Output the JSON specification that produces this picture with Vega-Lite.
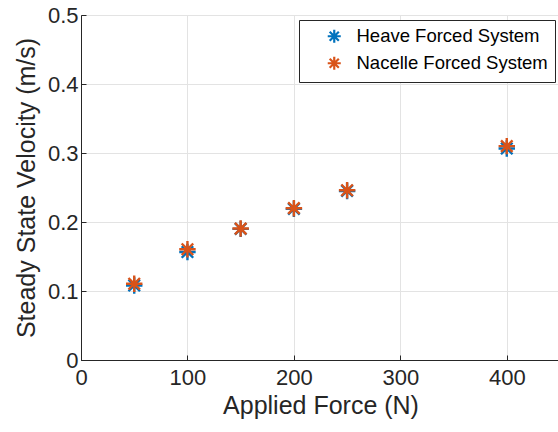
{
  "$schema": "https://vega.github.io/schema/vega-lite/v6.json",
  "width": 479,
  "height": 345,
  "autosize": {"type": "none"},
  "padding": {"left": 81, "top": 15, "right": 0, "bottom": 72},
  "background": "white",
  "config": {
    "font": "Liberation Sans",
    "view": {"stroke": "#262626", "strokeWidth": 1}
  },
  "data": {
    "values": [
      {"series": "Heave Forced System", "force": 50, "velocity": 0.108},
      {"series": "Heave Forced System", "force": 100, "velocity": 0.1565},
      {"series": "Heave Forced System", "force": 150, "velocity": 0.19},
      {"series": "Heave Forced System", "force": 200, "velocity": 0.219},
      {"series": "Heave Forced System", "force": 250, "velocity": 0.245},
      {"series": "Heave Forced System", "force": 400, "velocity": 0.3065},
      {"series": "Nacelle Forced System", "force": 50, "velocity": 0.1105},
      {"series": "Nacelle Forced System", "force": 100, "velocity": 0.1605},
      {"series": "Nacelle Forced System", "force": 150, "velocity": 0.1905},
      {"series": "Nacelle Forced System", "force": 200, "velocity": 0.22},
      {"series": "Nacelle Forced System", "force": 250, "velocity": 0.246},
      {"series": "Nacelle Forced System", "force": 400, "velocity": 0.31}
    ]
  },
  "mark": {
    "type": "point",
    "shape": "M-1,0L1,0M0,-1L0,1M-0.7,-0.7L0.7,0.7M-0.7,0.7L0.7,-0.7",
    "filled": false,
    "size": 270,
    "strokeWidth": 2.4,
    "opacity": 1
  },
  "encoding": {
    "x": {
      "field": "force",
      "type": "quantitative",
      "scale": {"domain": [0, 450], "nice": false},
      "axis": {
        "title": "Applied Force (N)",
        "values": [0, 100, 200, 300, 400],
        "grid": true,
        "gridColor": "#e3e3e3",
        "domainColor": "#262626",
        "tickColor": "#262626",
        "tickSize": -5,
        "labelFlush": false,
        "labelFontSize": 22,
        "labelColor": "#262626",
        "labelPadding": 12,
        "titleFontSize": 25,
        "titleFontWeight": "normal",
        "titleColor": "#262626",
        "titlePadding": 5
      }
    },
    "y": {
      "field": "velocity",
      "type": "quantitative",
      "scale": {"domain": [0, 0.5], "nice": false},
      "axis": {
        "title": "Steady State Velocity (m/s)",
        "values": [0, 0.1, 0.2, 0.3, 0.4, 0.5],
        "format": "~g",
        "grid": true,
        "gridColor": "#e3e3e3",
        "domainColor": "#262626",
        "tickColor": "#262626",
        "tickSize": -5,
        "labelFlush": false,
        "labelFontSize": 22,
        "labelColor": "#262626",
        "labelPadding": 8,
        "titleFontSize": 25,
        "titleFontWeight": "normal",
        "titleColor": "#262626",
        "titlePadding": 8
      }
    },
    "color": {
      "field": "series",
      "type": "nominal",
      "scale": {
        "domain": ["Heave Forced System", "Nacelle Forced System"],
        "range": ["#0072BD", "#D95319"]
      },
      "legend": {
        "title": null,
        "orient": "none",
        "legendX": 218,
        "legendY": 5,
        "fillColor": "white",
        "strokeColor": "#262626",
        "padding": 7,
        "labelFontSize": 18.5,
        "labelColor": "#000000",
        "labelLimit": 400,
        "labelOffset": 13,
        "symbolSize": 170,
        "symbolStrokeWidth": 2.2,
        "symbolOffset": 19,
        "rowPadding": 4
      }
    }
  }
}
